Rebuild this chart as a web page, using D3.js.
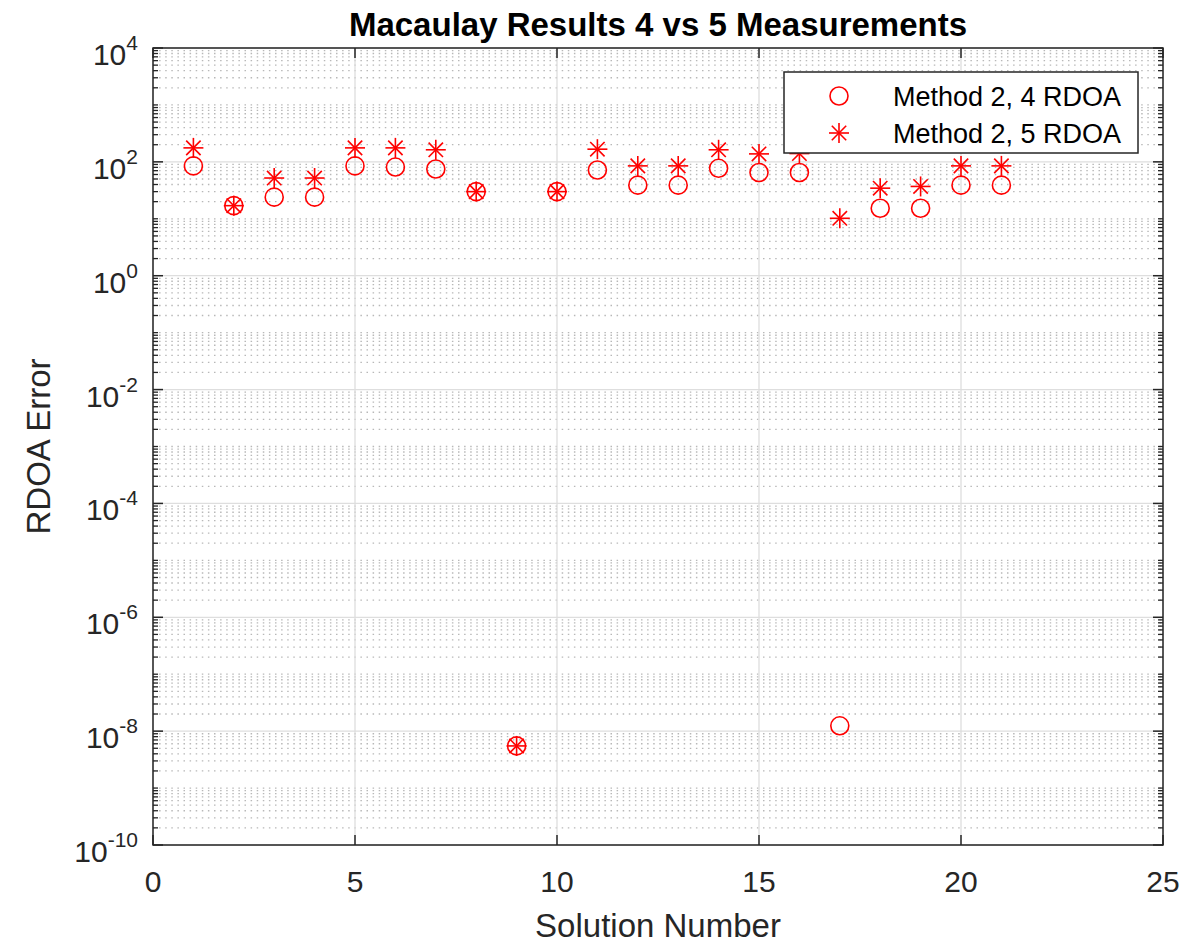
<!DOCTYPE html>
<html>
<head>
<meta charset="utf-8">
<script src="https://cdn.jsdelivr.net/npm/d3@7"></script>
<style>
  html, body { margin: 0; padding: 0; background: #ffffff; }
  svg { display: block; font-family: "Liberation Sans", Arial, Helvetica, sans-serif; }
</style>
</head>
<body>
<svg id="chart" width="1203" height="943"></svg>
<script>
// Solution index on the x axis
const solutionNumber = [1, 2, 3, 4, 5, 6, 7, 8, 9, 10, 11, 12, 13, 14, 15, 16, 17, 18, 19, 20, 21];

// RDOA error per solution, method 2 with 4 measurements
const method2Rdoa4 = [85, 17, 24, 24, 85, 81, 75, 30, 5.5e-9, 30, 72, 39, 39, 77, 65, 65, 1.24e-8, 15.3, 15.3, 39, 39];

// RDOA error per solution, method 2 with 5 measurements
const method2Rdoa5 = [176, 17, 52, 52, 176, 176, 163, 30, 5.5e-9, 30, 167, 85, 85, 163, 138, 140, 10.2, 34.5, 37, 85, 85];

// Axis ticks
const xTicks = [0, 5, 10, 15, 20, 25];
const yTickExponents = [-10, -8, -6, -4, -2, 0, 2, 4];

const seriesNames = ["Method 2, 4 RDOA", "Method 2, 5 RDOA"];
const titleText = "Macaulay Results 4 vs 5 Measurements";
const xLabelText = "Solution Number";
const yLabelText = "RDOA Error";

const svg = d3.select("#chart");
const plot = { left: 153, right: 1163, top: 48, bottom: 845 };
const axisColor = "#262626";
const red = "#ff0000";

const x = d3.scaleLinear().domain([0, 25]).range([plot.left, plot.right]);
const y = d3.scaleLog().domain([1e-10, 1e4]).range([plot.bottom, plot.top]);

// ---- grid ----
const grid = svg.append("g");

// minor grid: every 1..9 x 10^k that is not a major tick
const minorY = [];
for (let k = -10; k < 4; k++) {
  for (let m = 1; m <= 9; m++) {
    const v = m * Math.pow(10, k);
    if (m === 1 && k % 2 === 0) continue;
    minorY.push(v);
  }
}
grid.selectAll("line.minor").data(minorY).join("line")
  .attr("class", "minor")
  .attr("x1", plot.left).attr("x2", plot.right)
  .attr("y1", d => y(d)).attr("y2", d => y(d))
  .attr("stroke", "#b8b8b8").attr("stroke-width", 1.3)
  .attr("stroke-dasharray", "1.5 4.6");

const majorY = yTickExponents.map(e => Math.pow(10, e));
grid.selectAll("line.majory").data(majorY).join("line")
  .attr("class", "majory")
  .attr("x1", plot.left).attr("x2", plot.right)
  .attr("y1", d => y(d)).attr("y2", d => y(d))
  .attr("stroke", "#dedede").attr("stroke-width", 1.3);

grid.selectAll("line.majorx").data(xTicks).join("line")
  .attr("class", "majorx")
  .attr("x1", d => x(d)).attr("x2", d => x(d))
  .attr("y1", plot.top).attr("y2", plot.bottom)
  .attr("stroke", "#dedede").attr("stroke-width", 1.3);

// ---- data markers ----
const marks = svg.append("g");
const pts4 = solutionNumber.map((s, i) => ({ s, v: method2Rdoa4[i] }));
const pts5 = solutionNumber.map((s, i) => ({ s, v: method2Rdoa5[i] }));

function circleMarker(g, cx, cy) {
  g.append("circle").attr("cx", cx).attr("cy", cy).attr("r", 9)
    .attr("fill", "none").attr("stroke", red).attr("stroke-width", 1.6);
}
function starMarker(g, cx, cy) {
  const r = 10, d = 7.2;
  const segs = [[-r, 0, r, 0], [0, -r, 0, r], [-d, -d, d, d], [-d, d, d, -d]];
  segs.forEach(s => g.append("line")
    .attr("x1", cx + s[0]).attr("y1", cy + s[1])
    .attr("x2", cx + s[2]).attr("y2", cy + s[3])
    .attr("stroke", red).attr("stroke-width", 1.6));
}
pts4.forEach(p => circleMarker(marks, x(p.s), y(p.v)));
pts5.forEach(p => starMarker(marks, x(p.s), y(p.v)));

// ---- axes box and ticks ----
const axes = svg.append("g");
axes.append("rect")
  .attr("x", plot.left).attr("y", plot.top)
  .attr("width", plot.right - plot.left).attr("height", plot.bottom - plot.top)
  .attr("fill", "none").attr("stroke", axisColor).attr("stroke-width", 1.5);

const majorLen = 10, minorLen = 5;
// y ticks on left and right
[[plot.left, 1], [plot.right, -1]].forEach(([xa, dir]) => {
  axes.selectAll(null).data(majorY).join("line")
    .attr("x1", xa).attr("x2", xa + dir * majorLen)
    .attr("y1", d => y(d)).attr("y2", d => y(d))
    .attr("stroke", axisColor).attr("stroke-width", 1.5);
  axes.selectAll(null).data(minorY).join("line")
    .attr("x1", xa).attr("x2", xa + dir * minorLen)
    .attr("y1", d => y(d)).attr("y2", d => y(d))
    .attr("stroke", axisColor).attr("stroke-width", 1.3);
});
// x ticks on bottom and top
[[plot.bottom, -1], [plot.top, 1]].forEach(([ya, dir]) => {
  axes.selectAll(null).data(xTicks).join("line")
    .attr("x1", d => x(d)).attr("x2", d => x(d))
    .attr("y1", ya).attr("y2", ya + dir * majorLen)
    .attr("stroke", axisColor).attr("stroke-width", 1.5);
});

// ---- tick labels ----
const labels = svg.append("g").attr("fill", axisColor);
labels.selectAll("text.xt").data(xTicks).join("text")
  .attr("class", "xt")
  .attr("x", d => x(d)).attr("y", plot.bottom + 47)
  .attr("text-anchor", "middle").attr("font-size", 30)
  .text(d => d);

const yt = labels.selectAll("text.yt").data(yTickExponents).join("text")
  .attr("class", "yt")
  .attr("x", plot.left - 15).attr("y", d => y(Math.pow(10, d)) + 17)
  .attr("text-anchor", "end").attr("font-size", 30);
yt.append("tspan").text("10");
yt.append("tspan").attr("dy", -15).attr("font-size", 21).text(d => d);

// ---- axis labels and title ----
svg.append("text")
  .attr("x", (plot.left + plot.right) / 2).attr("y", 937)
  .attr("text-anchor", "middle").attr("font-size", 33).attr("fill", axisColor)
  .text(xLabelText);

svg.append("text")
  .attr("transform", `translate(50, ${(plot.top + plot.bottom) / 2}) rotate(-90)`)
  .attr("text-anchor", "middle").attr("font-size", 33).attr("fill", axisColor)
  .text(yLabelText);

svg.append("text")
  .attr("x", (plot.left + plot.right) / 2).attr("y", 36)
  .attr("text-anchor", "middle").attr("font-size", 33).attr("font-weight", "bold")
  .attr("fill", "#000000")
  .text(titleText);

// ---- legend ----
const legend = svg.append("g");
legend.append("rect")
  .attr("x", 784).attr("y", 72).attr("width", 354).attr("height", 81)
  .attr("fill", "#ffffff").attr("stroke", axisColor).attr("stroke-width", 1.5);
const legendRows = [96, 133];
circleMarker(legend, 839, legendRows[0]);
starMarker(legend, 839, legendRows[1]);
legend.selectAll("text").data(seriesNames).join("text")
  .attr("x", 893).attr("y", (d, i) => legendRows[i] + 10)
  .attr("font-size", 27).attr("fill", "#000000")
  .text(d => d);
</script>
</body>
</html>
